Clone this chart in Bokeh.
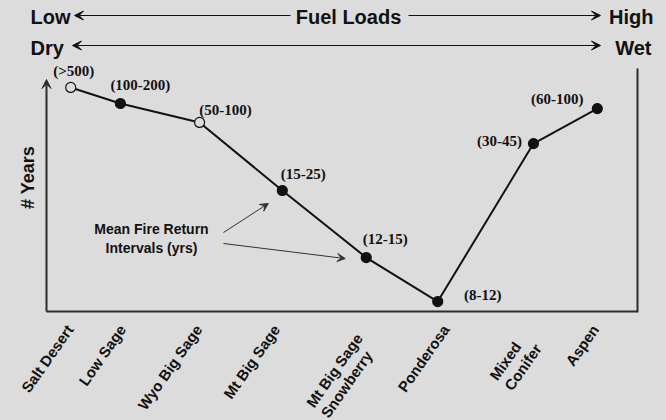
import math
from bokeh.plotting import figure
from bokeh.models import (ColumnDataSource, Label, LabelSet, Arrow, VeeHead, Range1d)
from bokeh.core.properties import value
from bokeh.embed import file_html
from bokeh.resources import INLINE

# ---------------- data ----------------
vegetation = ["Salt Desert", "Low Sage", "Wyo Big Sage", "Mt Big Sage",
              "Mt Big Sage\nSnowberry", "Ponderosa", "Mixed\nConifer", "Aspen"]
moisture_position = [4.1, 12.5, 25.9, 39.9, 54.1, 66.2, 82.4, 93.2]   # dry -> wet
relative_interval = [92.2, 85.6, 77.8, 49.8, 22.2, 4.1, 69.1, 83.5]   # relative # years
interval_label = ["(>500)", "(100-200)", "(50-100)", "(15-25)", "(12-15)",
                  "(8-12)", "(30-45)", "(60-100)"]
open_marker = [True, False, True, False, False, False, False, False]

# ---------------- styles / layout ----------------
BG = "#dcdcdc"
INK = "#111111"
FRAME = "#2b2b2b"
W, H = 666, 420
PL, PR, PT, PB = 46, 29, 68, 109          # plot-region borders (px)
FW, FH = W - PL - PR, H - PT - PB
SANS = "Liberation Sans"
SERIF = "Liberation Serif"
X0, X1, Y0, Y1 = 0.0, 100.0, 0.0, 100.0   # plot region in data units

def dx(px):
    return px * (X1 - X0) / FW

def dy(px):
    return px * (Y1 - Y0) / FH

def cx(page_x):
    return X0 + dx(page_x - PL)

def cy(page_y):
    return Y0 + dy(H - PB - page_y)

# value-label offsets (screen px, up positive)
lab_dx = [3, 20, 26, 21, 19, 45, -34, -40]
lab_dy = [16, 18, 12, 16, 19, 7, 3, 10]
# category-label offsets (screen px)
cat_dx = [-1, 2, -1, -6, 0, 8, -3, -2]
cat_dy = [-15 - 14 * t.count("\n") for t in vegetation]

p = figure(width=W, height=H,
           x_range=Range1d(X0 - dx(PL), X1 + dx(PR)),
           y_range=Range1d(Y0 - dy(PB), Y1 + dy(PT)),
           x_axis_type=None, y_axis_type=None, output_backend="svg",
           toolbar_location=None, min_border=0,
           background_fill_color=BG, border_fill_color=BG, outline_line_color=None)

# frame: bottom + right, and left axis as an arrow
p.line([X0, X1, X1], [Y0, Y0, Y1], line_color=FRAME, line_width=2, line_join="miter")
p.add_layout(Arrow(x_start=X0, y_start=Y0, x_end=X0, y_end=cy(79),
                   line_color=FRAME, line_width=2,
                   end=VeeHead(size=9, fill_color=FRAME, line_color=FRAME, line_width=1)))

p.add_layout(Label(x=cx(27), y=cy(177), text="# Years", angle=math.pi / 2,
                   text_align="center", text_baseline="middle", text_font=SANS,
                   text_font_style="bold", text_font_size="18px", text_color=INK))

src = ColumnDataSource(dict(
    x=moisture_position, y=relative_interval, label=interval_label,
    fill=[BG if o else INK for o in open_marker], ldx=lab_dx, ldy=lab_dy))

p.line("x", "y", source=src, line_color=INK, line_width=2)
p.scatter("x", "y", source=src, size=10, fill_color="fill", line_color=INK, line_width=1.2)

p.add_layout(LabelSet(x="x", y="y", text="label", x_offset="ldx", y_offset="ldy",
                      source=src, text_align="center", text_baseline="middle",
                      text_font=value(SERIF), text_font_style="bold", text_font_size="15px",
                      text_color=INK))

# category labels under the frame
cat_src = ColumnDataSource(dict(x=moisture_position, text=vegetation, cdx=cat_dx, cdy=cat_dy))
p.add_layout(LabelSet(x="x", y=Y0, text="text", source=cat_src, angle=math.radians(55),
                      x_offset="cdx", y_offset="cdy", text_align="right",
                      text_baseline="middle", text_font=value(SANS), text_font_style="bold",
                      text_font_size="15px", text_color=INK, text_line_height=1.05))

# header: fuel loads and moisture
head_kw = dict(text_font=SANS, text_font_style="bold", text_font_size="20px",
               text_color=INK, text_baseline="middle")
p.add_layout(Label(x=cx(30), y=cy(16), text="Low", text_align="left", **head_kw))
p.add_layout(Label(x=cx(348), y=cy(16), text="Fuel Loads", text_align="center", **head_kw))
p.add_layout(Label(x=cx(653), y=cy(16), text="High", text_align="right", **head_kw))
p.add_layout(Label(x=cx(30), y=cy(47), text="Dry", text_align="left", **head_kw))
p.add_layout(Label(x=cx(651), y=cy(47), text="Wet", text_align="right", **head_kw))

def head():
    return VeeHead(size=9, fill_color=INK, line_color=INK, line_width=1)

p.add_layout(Arrow(x_start=cx(290), y_start=cy(15), x_end=cx(74), y_end=cy(15),
                   line_color=INK, line_width=1.2, end=head()))
p.add_layout(Arrow(x_start=cx(408), y_start=cy(15), x_end=cx(600), y_end=cy(15),
                   line_color=INK, line_width=1.2, end=head()))
p.add_layout(Arrow(x_start=cx(72), y_start=cy(45), x_end=cx(600), y_end=cy(45),
                   line_color=INK, line_width=1.2, start=head(), end=head()))

# annotation pointing at two of the points
p.add_layout(Label(x=cx(151), y=cy(238), text="Mean Fire Return\nIntervals (yrs)",
                   text_align="center", text_baseline="middle", text_font=SANS,
                   text_font_style="bold", text_font_size="14px", text_color=INK))
tips = [(3, -14, -13, 232), (4, -21, -1, 243)]
for i, ox, oy, sy in tips:
    p.add_layout(Arrow(x_start=cx(223), y_start=cy(sy),
                       x_end=moisture_position[i] + dx(ox), y_end=relative_interval[i] + dy(oy),
                       line_color="#333333", line_width=1,
                       end=VeeHead(size=8, fill_color="#333333", line_color="#333333")))

html = file_html(p, INLINE)
html = html.replace("<body>", '<body style="background-color:#dcdcdc">')
open("out.html", "w").write(html)
